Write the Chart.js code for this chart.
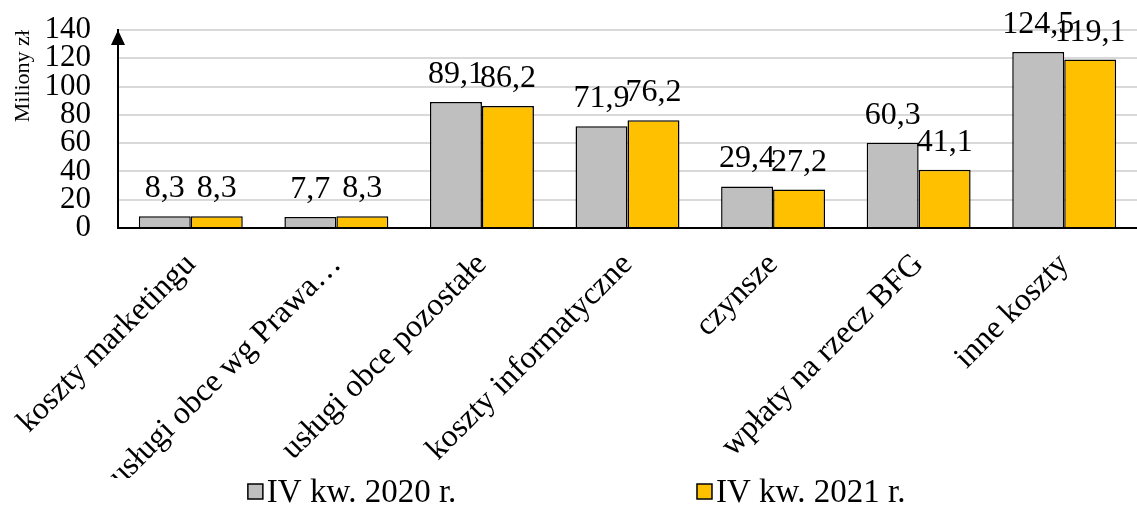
<!DOCTYPE html>
<html>
<head>
<meta charset="utf-8">
<script src="https://cdn.jsdelivr.net/npm/chart.js@4.4.0/dist/chart.umd.min.js"></script>
<style>
  body { margin: 0; background: #fff; }
  #wrap { width: 1137px; height: 510px; }
</style>
</head>
<body>
<div id="wrap"><canvas id="c" width="1137" height="510"></canvas></div>
<script>
var categories = [
  "koszty marketingu",
  "usługi obce wg Prawa…",
  "usługi obce pozostałe",
  "koszty informatyczne",
  "czynsze",
  "wpłaty na rzecz BFG",
  "inne koszty"
];
var q4_2020 = [8.3, 7.7, 89.1, 71.9, 29.4, 60.3, 124.5];
var q4_2021 = [8.3, 8.3, 86.2, 76.2, 27.2, 41.1, 119.1];
var seriesNames = ["IV kw. 2020 r.", "IV kw. 2021 r."];
var yTicks = [0, 20, 40, 60, 80, 100, 120, 140];

var FONT = "'Liberation Serif', 'Times New Roman', serif";

function fmt(v) {
  return v.toFixed(1).replace('.', ',');
}

// value labels above every bar
var valueLabels = {
  id: 'valueLabels',
  afterDatasetsDraw: function(chart) {
    var ctx = chart.ctx;
    ctx.save();
    ctx.font = "32px " + FONT;
    ctx.fillStyle = "#000";
    ctx.textAlign = "center";
    ctx.textBaseline = "alphabetic";
    chart.data.datasets.forEach(function(ds, i) {
      chart.getDatasetMeta(i).data.forEach(function(bar, j) {
        ctx.fillText(fmt(ds.data[j]), bar.x, bar.y - 19);
      });
    });
    ctx.restore();
  }
};

// arrow head on top of the value axis
var axisArrow = {
  id: 'axisArrow',
  afterDraw: function(chart) {
    var ctx = chart.ctx;
    var a = chart.chartArea;
    ctx.save();
    ctx.fillStyle = "#000";
    ctx.beginPath();
    ctx.moveTo(a.left, a.top);
    ctx.lineTo(a.left - 7, a.top + 15);
    ctx.lineTo(a.left + 7, a.top + 15);
    ctx.closePath();
    ctx.fill();
    ctx.restore();
  }
};

// legend drawn along the bottom edge
var bottomLegend = {
  id: 'bottomLegend',
  afterDraw: function(chart) {
    var ctx = chart.ctx;
    var w = chart.width;
    var y = chart.height - 18;
    var starts = [w * 0.218, w * 0.613];
    ctx.save();
    ctx.font = "33px " + FONT;
    ctx.textBaseline = "middle";
    ctx.textAlign = "left";
    chart.data.datasets.forEach(function(ds, i) {
      var x = starts[i];
      ctx.fillStyle = ds.backgroundColor;
      ctx.fillRect(x, y - 8, 15, 15);
      ctx.strokeStyle = "#000";
      ctx.lineWidth = 1.5;
      ctx.strokeRect(x, y - 8, 15, 15);
      ctx.fillStyle = "#000";
      ctx.fillText(ds.label, x + 19, y + 1);
    });
    ctx.restore();
  }
};

new Chart(document.getElementById('c').getContext('2d'), {
  type: 'bar',
  data: {
    labels: categories,
    datasets: [
      { label: seriesNames[0], data: q4_2020, backgroundColor: "#bfbfbf",
        borderColor: "#000", borderWidth: 1.5 },
      { label: seriesNames[1], data: q4_2021, backgroundColor: "#ffc000",
        borderColor: "#000", borderWidth: 1.5 }
    ]
  },
  options: {
    responsive: false,
    animation: false,
    layout: { padding: { top: 30, right: 0, bottom: 32, left: 0 } },
    datasets: { bar: { categoryPercentage: 0.714, barPercentage: 1.0 } },
    plugins: {
      legend: { display: false },
      tooltip: { enabled: false }
    },
    scales: {
      x: {
        grid: { display: false },
        border: { color: "#000", width: 2 },
        ticks: {
          color: "#000",
          font: { family: FONT, size: 32 },
          minRotation: 45,
          maxRotation: 45,
          autoSkip: false,
          padding: 10
        },
        afterFit: function(s) { s.height = 250; }
      },
      y: {
        min: 0,
        max: 140,
        afterBuildTicks: function(s) {
          s.ticks = yTicks.map(function(v) { return { value: v }; });
        },
        grid: {
          color: "#d9d9d9",
          lineWidth: 2,
          drawTicks: true,
          tickLength: 25,
          tickColor: "rgba(0,0,0,0)"
        },
        border: { color: "#000", width: 2 },
        ticks: {
          color: "#000",
          font: { family: FONT, size: 31, lineHeight: 1 },
          autoSkip: false,
          padding: 2
        },
        title: {
          display: true,
          align: 'end',
          text: "Miliony zł",
          color: "#000",
          font: { family: FONT, size: 22 },
          padding: { top: 10, bottom: 0 }
        },
        afterFit: function(s) { s.width = 118; }
      }
    }
  },
  plugins: [valueLabels, axisArrow, bottomLegend]
});
</script>
</body>
</html>
